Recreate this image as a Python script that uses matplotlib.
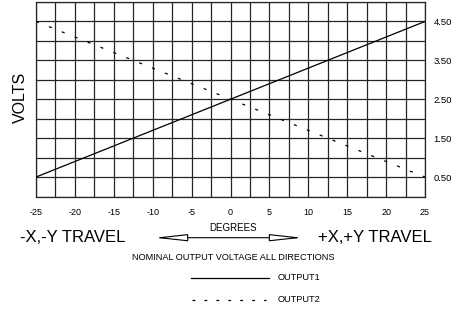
import matplotlib
matplotlib.use("Agg")
import matplotlib.pyplot as plt
from matplotlib.lines import Line2D
from matplotlib.patches import FancyArrowPatch

# data
degrees = [-25, 0, 25]
output1 = [0.5, 2.5, 4.5]
output2 = [4.5, 2.5, 0.5]
x_ticks = [-25, -20, -15, -10, -5, 0, 5, 10, 15, 20, 25]
y_ticks = [0.5, 1.5, 2.5, 3.5, 4.5]
y_labels = ["0.50", "1.50", "2.50", "3.50", "4.50"]

W, H = 466, 309
plt.rcParams['font.family'] = ['Liberation Sans', 'DejaVu Sans']
plt.rcParams['lines.scale_dashes'] = False

fig = plt.figure(figsize=(W / 100, H / 100), dpi=100)
fig.patch.set_facecolor('white')


def fx(x):
    return x / W


def fy(y):
    return 1 - y / H


ax = fig.add_axes([fx(36), fy(196.5), fx(425) - fx(36), fy(2) - fy(196.5)])
ax.set_xlim(-25, 25)
ax.set_ylim(0, 5)

# grid every 2.5 deg / 0.5 V
for gx in [-25 + 2.5 * i for i in range(21)]:
    ax.axvline(gx, color='#262626', lw=0.9, zorder=1)
for gy in [0.5 * i for i in range(11)]:
    ax.axhline(gy, color='#262626', lw=0.9, zorder=1)

ax.plot(degrees, output1, color='black', lw=0.9, zorder=3)
ax.plot(degrees, output2, color='black', lw=0.9, dashes=(2.2, 7.8), zorder=3)

for s in ax.spines.values():
    s.set_linewidth(0.9)
    s.set_color('#262626')

ax.set_xticks(x_ticks)
ax.set_xticklabels([str(t) for t in x_ticks], fontsize=6.5)
ax.tick_params(axis='x', length=0, pad=8)
ax.yaxis.tick_right()
ax.set_yticks(y_ticks)
ax.set_yticklabels(y_labels, fontsize=6.8)
ax.tick_params(axis='y', length=0, pad=6)

fig.text(fx(20), fy(97.5), 'VOLTS', rotation=90, fontsize=11.5,
         ha='center', va='center')
fig.text(fx(233), fy(228), 'DEGREES', fontsize=7, ha='center', va='center')
fig.text(fx(20.5), fy(237.5), '-X,-Y TRAVEL', fontsize=12, ha='left', va='center')
fig.text(fx(318), fy(237.5), '+X,+Y TRAVEL', fontsize=12, ha='left', va='center')
fig.text(fx(233.5), fy(257), 'NOMINAL OUTPUT VOLTAGE ALL DIRECTIONS',
         fontsize=6.6, ha='center', va='center')

# double arrow with hollow heads
arr = FancyArrowPatch((fx(152), fy(237.7)), (fx(305), fy(237.7)),
                      transform=fig.transFigure,
                      arrowstyle='<|-|>,head_length=2.0,head_width=0.22',
                      mutation_scale=10, lw=0.8, ec='black', fc='white')
fig.add_artist(arr)

# legend
fig.add_artist(Line2D([fx(191), fx(269)], [fy(278), fy(278)],
                      transform=fig.transFigure, color='black', lw=0.9))
fig.add_artist(Line2D([fx(192), fx(266)], [fy(300), fy(300)],
                      transform=fig.transFigure, color='black', lw=0.9,
                      dashes=(2.0, 6.6)))
fig.text(fx(278), fy(278), 'OUTPUT1', fontsize=6.6, ha='left', va='center')
fig.text(fx(278), fy(300), 'OUTPUT2', fontsize=6.6, ha='left', va='center')

fig.savefig('out.png', dpi=100)
